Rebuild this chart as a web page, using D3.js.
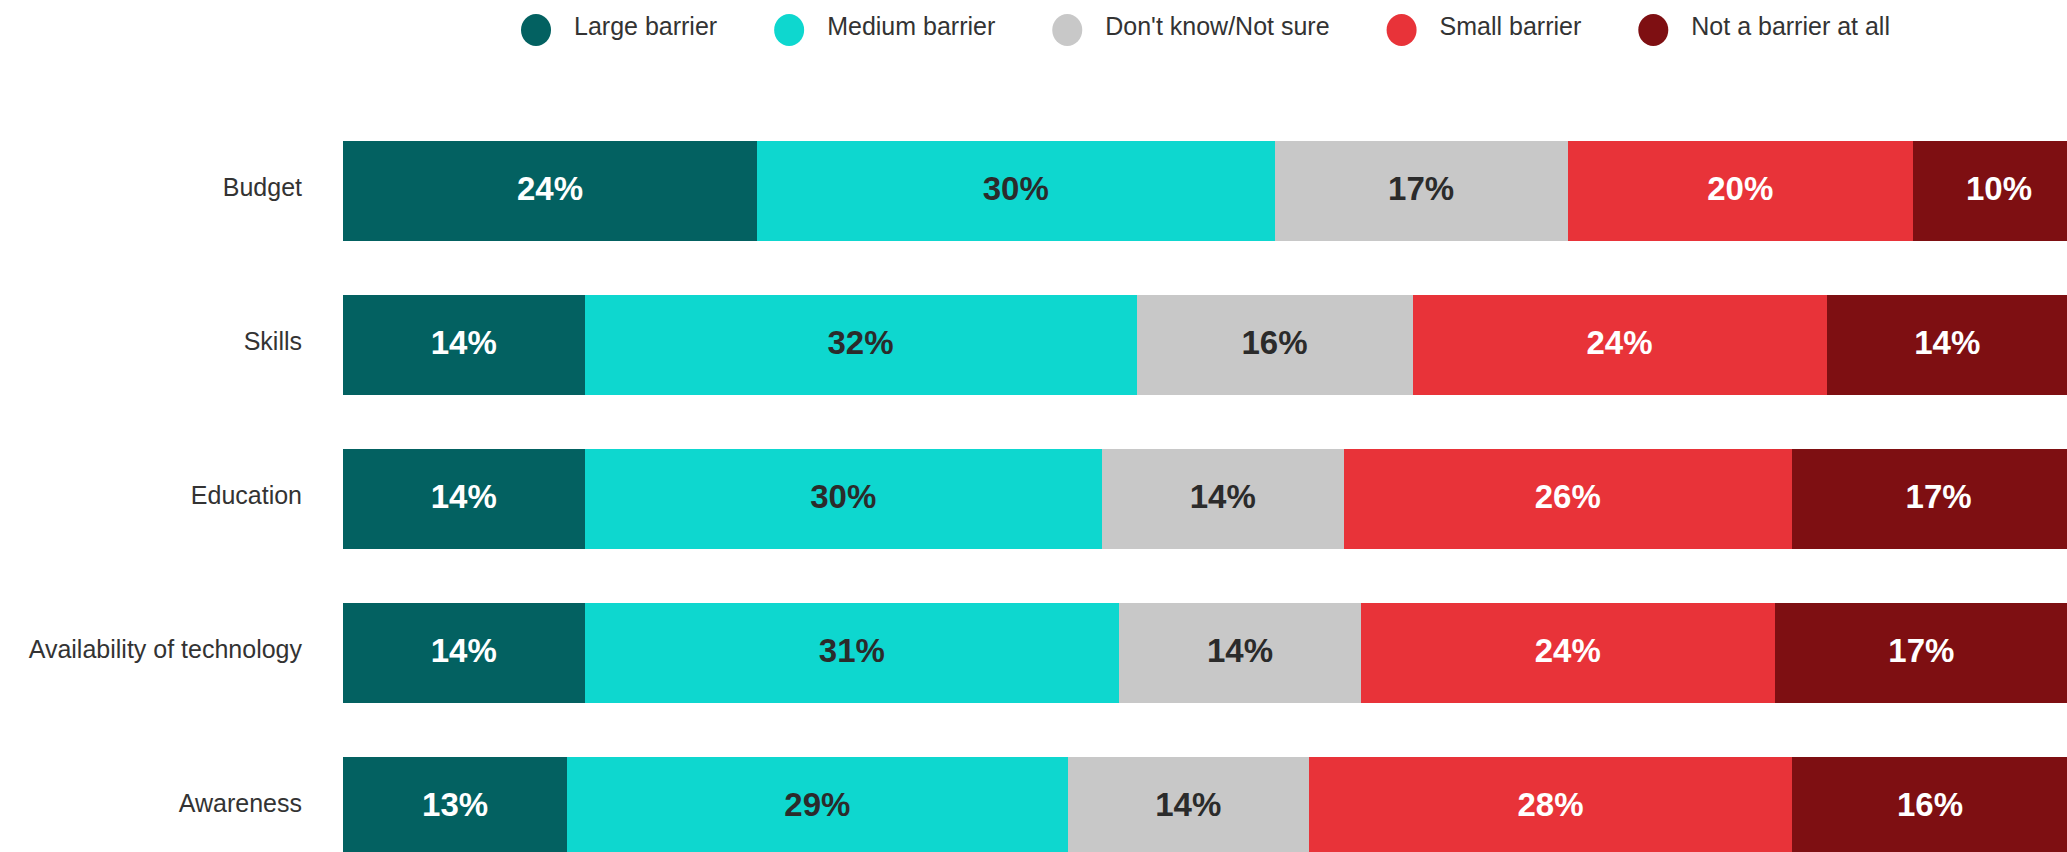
<!DOCTYPE html>
<html>
<head>
<meta charset="utf-8">
<script src="https://cdn.jsdelivr.net/npm/d3@7"></script>
<style>
  html, body { margin: 0; padding: 0; background: #ffffff; overflow: hidden; }
  svg { display: block; }
  text { font-family: "Liberation Sans", Arial, Helvetica, sans-serif; }
</style>
</head>
<body>
<svg id="chart" width="2067" height="852"></svg>
<script>
// Survey: how big a barrier is each factor? (share of respondents, %)
const categories = ["Budget", "Skills", "Education", "Availability of technology", "Awareness"];
const seriesNames = ["Large barrier", "Medium barrier", "Don't know/Not sure", "Small barrier", "Not a barrier at all"];

const largeBarrier    = [24, 14, 14, 14, 13];
const mediumBarrier   = [30, 32, 30, 31, 29];
const dontKnow        = [17, 16, 14, 14, 14];
const smallBarrier    = [20, 24, 26, 24, 28];
const notABarrier     = [10, 14, 17, 17, 16];

const seriesValues = [largeBarrier, mediumBarrier, dontKnow, smallBarrier, notABarrier];
const seriesColors = ["#036161", "#0ed7cf", "#c8c8c8", "#e83339", "#7e0f12"];
const labelColors  = ["#ffffff", "#2b2b2b", "#2b2b2b", "#ffffff", "#ffffff"];

const width = 2067, height = 852;
const plotLeft = 343, plotRight = 2068;
const svg = d3.select("#chart");

// rows for the stack
const rows = categories.map((c, i) => {
  const r = { category: c };
  seriesNames.forEach((s, j) => { r[s] = seriesValues[j][i]; });
  return r;
});
const stacked = d3.stack().keys(seriesNames)(rows);

const x = d3.scaleLinear().domain([0, 100]).range([plotLeft, plotRight]);
const y = d3.scaleBand().domain(categories).range([141, 857]).paddingInner(54 / 154).paddingOuter(0);
const color = d3.scaleOrdinal().domain(seriesNames).range(seriesColors);
const labelColor = d3.scaleOrdinal().domain(seriesNames).range(labelColors);

// bars
const layers = svg.append("g").selectAll("g")
  .data(stacked)
  .join("g")
  .attr("fill", d => color(d.key));

layers.selectAll("rect")
  .data(d => d.map(p => ({ key: d.key, p })))
  .join("rect")
  .attr("x", d => x(d.p[0]))
  .attr("y", d => y(d.p.data.category))
  .attr("width", d => x(d.p[1]) - x(d.p[0]))
  .attr("height", y.bandwidth())
  .attr("shape-rendering", "crispEdges");

// value labels centred in each segment
svg.append("g").selectAll("g")
  .data(stacked)
  .join("g")
  .selectAll("text")
  .data(d => d.map(p => ({ key: d.key, p })))
  .join("text")
  .attr("x", d => (x(d.p[0]) + x(d.p[1])) / 2)
  .attr("y", d => y(d.p.data.category) + y.bandwidth() / 2)
  .attr("dy", "0.27em")
  .attr("text-anchor", "middle")
  .attr("font-size", 33)
  .attr("font-weight", "bold")
  .attr("fill", d => labelColor(d.key))
  .text(d => (d.p[1] - d.p[0]) + "%");

// category axis
const yAxis = svg.append("g")
  .attr("transform", `translate(${plotLeft - 41},0)`)
  .call(d3.axisLeft(y).tickSize(0).tickPadding(0));
yAxis.select(".domain").remove();
yAxis.selectAll("text")
  .attr("font-size", 25)
  .attr("fill", "#333333")
  .attr("font-family", "'Liberation Sans', Arial, sans-serif")
  .attr("dy", "0.18em");

// legend, centred over the plot area
const legend = svg.append("g");
const items = legend.selectAll("g")
  .data(seriesNames)
  .join("g");
items.append("ellipse")
  .attr("cx", 0).attr("cy", 30)
  .attr("rx", 15).attr("ry", 16)
  .attr("fill", d => color(d));
items.append("text")
  .attr("x", 38).attr("y", 27)
  .attr("dy", "0.3em")
  .attr("font-size", 25)
  .attr("fill", "#333333")
  .text(d => d);

let cursor = 0;
items.each(function () {
  const g = d3.select(this);
  g.attr("transform", `translate(${cursor},0)`);
  const w = g.select("text").node().getComputedTextLength();
  cursor += 38 + w + 72;
});
const totalWidth = cursor - 72 + 15;
const start = (plotLeft + plotRight) / 2 - totalWidth / 2 + 15;
legend.attr("transform", `translate(${start},0)`);
</script>
</body>
</html>
